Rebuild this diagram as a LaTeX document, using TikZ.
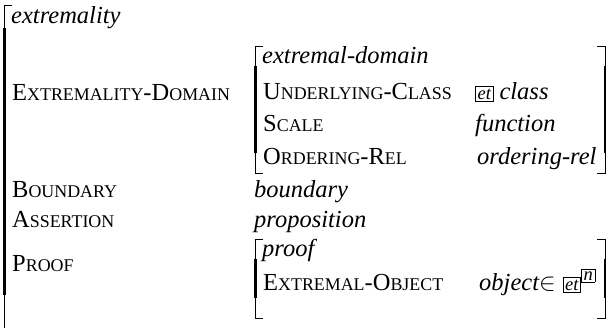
\documentclass[tikz,border=0pt]{standalone}
\usepackage{fontspec}
\setmainfont{Liberation Serif}
\tikzset{
  lbl/.style={anchor=base west, inner sep=0pt, font=\fontsize{24.5}{29}\selectfont},
  thinbr/.style={line width=0.9pt},
  thickbr/.style={line width=2.2pt}
}
% fake small capitals: full capital + scaled capitals
\newcommand{\sci}[1]{{\fontsize{17.9}{22}\selectfont #1}}
\newcommand{\typebox}[1]{{\setlength{\fboxsep}{1.8pt}\setlength{\fboxrule}{0.7pt}\fbox{\fontsize{18.5}{20}\selectfont\itshape #1}}}
% left and right brackets from top y to bottom y at x
\newcommand{\avmleft}[3]{%
  \draw[thinbr] (#1+8,#2) -- (#1,#2) -- (#1,#3) -- (#1+8,#3);
  \draw[thickbr] (#1+0.4,#2+20) -- (#1+0.4,#3-20);}
\newcommand{\avmright}[3]{%
  \draw[thinbr] (#1-8,#2) -- (#1,#2) -- (#1,#3) -- (#1-8,#3);
  \draw[thickbr] (#1-0.4,#2+20) -- (#1-0.4,#3-20);}
\begin{document}
\begin{tikzpicture}[x=1pt,y=-1pt]
\useasboundingbox (0,0) rectangle (607,327);
% outer matrix (open to the bottom)
\draw[thinbr] (12,5) -- (4,5) -- (4,340);
\draw[thickbr] (4.4,28) -- (4.4,295);
\node[lbl] (t0) at (11,23) {\itshape extremality};
\node[lbl] (f1) at (12,100) {E\sci{XTREMALITY}-D\sci{OMAIN}};
\node[lbl] (f2) at (12,197) {B\sci{OUNDARY}};
\node[lbl] (f3) at (12,227) {A\sci{SSERTION}};
\node[lbl] (f4) at (12,271) {P\sci{ROOF}};
% extremality-domain sub-matrix
\avmleft{255}{46}{173}
\avmright{605}{46}{173}
\node[lbl] (d0) at (262,63) {\itshape extremal-domain};
\node[lbl] (d1) at (263,99) {U\sci{NDERLYING}-C\sci{LASS}};
\node[lbl] (d2) at (263,131) {S\sci{CALE}};
\node[lbl] (d3) at (263,164) {O\sci{RDERING}-R\sci{EL}};
\node[lbl] (v1) at (475,99) {\typebox{et}\hspace{6pt}\itshape class};
\node[lbl] (v2) at (475,131) {\itshape function};
\node[lbl] (v3) at (477,164) {\itshape ordering-rel};
% simple values
\node[lbl] (v4) at (254,197) {\itshape boundary};
\node[lbl] (v5) at (254,227) {\itshape proposition};
% proof sub-matrix
\avmleft{255}{239}{318}
\avmright{605}{239}{318}
\node[lbl] (p0) at (262,256) {\itshape proof};
\node[lbl] (p1) at (263,290) {E\sci{XTREMAL}-O\sci{BJECT}};
\node[lbl] (v6) at (479,290) {\itshape object$\in$\hspace{7pt}\typebox{et}\raisebox{10pt}{\typebox{n}}};
\end{tikzpicture}
\end{document}
